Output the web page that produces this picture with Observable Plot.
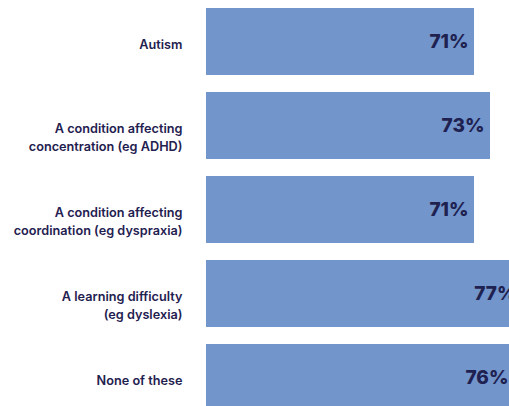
<!DOCTYPE html>
<html>
<head>
<meta charset="utf-8">
<script src="https://cdn.jsdelivr.net/npm/d3@7"></script>
<script src="https://cdn.jsdelivr.net/npm/@observablehq/plot@0.6"></script>
<style>
  html, body { margin: 0; padding: 0; background: #ffffff; overflow: hidden; }
  #chart svg { overflow: hidden; display: block; }
</style>
</head>
<body>
<div id="chart"></div>
<script>
const categories = [
  "Autism",
  "A condition affecting\nconcentration (eg ADHD)",
  "A condition affecting\ncoordination (eg dyspraxia)",
  "A learning difficulty\n(eg dyslexia)",
  "None of these"
];
const values = [71, 73, 71, 77, 76];
const valueLabels = ["71%", "73%", "71%", "77%", "76%"];

const data = categories.map((c, i) => ({category: c, value: values[i], label: valueLabels[i]}));

const navy = "#1f2150";

const chart = Plot.plot({
  width: 509,
  height: 406,
  marginLeft: 206,
  marginRight: 0,
  marginTop: 0,
  marginBottom: 0,
  style: {fontFamily: "Inter, Roboto, sans-serif", background: "#ffffff"},
  x: {domain: [37.5, 75.375], axis: null},
  y: {domain: categories, range: [-1.4, 419.9], paddingInner: 0.2, paddingOuter: 0.1, axis: null},
  marks: [
    Plot.barX(data, {x: "value", y: "category", fill: "#7295cc", clip: true}),
    Plot.text(data, {
      x: "value", y: "category", text: "label",
      textAnchor: "end", dx: -6,
      fill: navy, fontSize: 19, fontWeight: 800,
      style: "letter-spacing:-1.2px"
    }),
    Plot.text(data, {
      y: "category", text: "category",
      frameAnchor: "left", textAnchor: "end", dx: -24,
      lineAnchor: "top", dy: -4.9, lineHeight: 1.37,
      fill: navy, fontSize: 12.7, fontWeight: 600,
      style: "letter-spacing:-0.2px"
    })
  ]
});
document.getElementById("chart").appendChild(chart);
</script>
</body>
</html>
